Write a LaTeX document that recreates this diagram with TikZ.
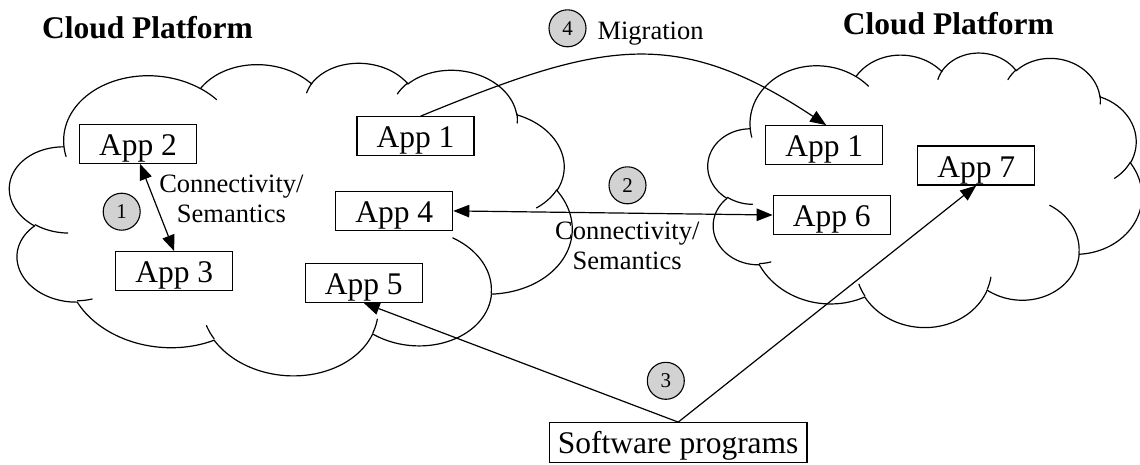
\documentclass[tikz,border=0pt]{standalone}
\usepackage{fontspec}
\setmainfont{Liberation Serif}
\usetikzlibrary{arrows.meta}

\newcommand\cldmove[2]{\xdef\cldPX{#1}\xdef\cldPY{#2}}
\newcommand\cldarc[4]{%
  \pgfmathsetmacro\cldT{atan2((#1)*sin(#3),(#2)*cos(#3))}%
  \pgfmathsetmacro\cldU{atan2((#1)*sin((#3)+(#4)),(#2)*cos((#3)+(#4)))}%
  \pgfmathsetmacro\cldD{\cldU-(\cldT)}%
  \pgfmathsetmacro\cldD{(\cldD)<0?(\cldD)+360:(\cldD)}%
  \pgfmathsetmacro\cldCX{\cldPX-(#1)*cos(\cldT)}%
  \pgfmathsetmacro\cldCY{\cldPY-(#2)*sin(\cldT)}%
  \pgfmathsetmacro\cldTE{\cldT+\cldD}%
  \draw[cloudline] plot[domain=\cldT:\cldTE,samples=40]
     ({\cldXo+(\cldCX+(#1)*cos(\x))*\cldSx},{\cldYo+(\cldCY+(#2)*sin(\x))*\cldSy});
  \pgfmathsetmacro\cldNX{\cldCX+(#1)*cos(\cldTE)}%
  \pgfmathsetmacro\cldNY{\cldCY+(#2)*sin(\cldTE)}%
  \xdef\cldPX{\cldNX}\xdef\cldPY{\cldNY}%
}
\newcommand\drawcloud[4]{%
  \def\cldXo{#1}\def\cldYo{#2}%
  \pgfmathsetmacro\cldSx{(#3)/432}\pgfmathsetmacro\cldSy{(#4)/432}%
  \cldmove{39.00}{143.70}%
  \cldarc{67.53}{91.90}{-190.4875}{123.7805}%
  \cldarc{53.33}{72.67}{-144.1024}{89.9452}%
  \cldarc{43.65}{59.45}{-145.8079}{99.7230}%
  \cldarc{48.57}{65.95}{-130.9861}{117.2417}%
  \cldarc{53.33}{72.73}{-78.7089}{109.0269}%
  \cldarc{67.75}{92.20}{-46.2673}{130.2690}%
  \cldarc{57.85}{78.67}{0.6250}{114.0333}%
  \cldarc{67.52}{92.15}{22.4516}{115.1726}%
  \cldarc{77.20}{105.43}{66.2426}{75.7110}%
  \cldarc{43.60}{59.18}{-274.9421}{146.7356}%
  \cldarc{43.45}{59.45}{-246.8285}{152.5189}%
  % creases
  \cldmove{46.93}{261.77}\cldarc{43.45}{59.45}{86.742}{26.4295}%
  \cldmove{69.28}{348.99}\cldarc{43.60}{59.18}{73.6105}{11.4475}%
  \cldmove{164.78}{390.90}\cldarc{67.52}{92.15}{137.6242}{14.0811}%
  \cldmove{288.27}{347.51}\cldarc{67.52}{92.15}{6.4533}{15.9984}%
  \cldmove{341.29}{229.54}\cldarc{57.85}{78.67}{-70.2924}{70.9174}%
  \cldmove{417.98}{153.54}\cldarc{53.33}{72.73}{30.3180}{27.7515}%
  \cldmove{383.24}{54.26}\cldarc{48.57}{65.95}{-13.7443}{14.8589}%
  \cldmove{290.78}{39.52}\cldarc{48.57}{65.95}{-149.1815}{18.1954}%
  \cldmove{221.41}{47.20}\cldarc{43.65}{59.45}{-163.4943}{17.6864}%
  \cldmove{140.00}{51.92}\cldarc{67.53}{91.90}{-66.7070}{12.3194}%
  \cldmove{41.27}{157.89}\cldarc{67.53}{91.90}{157.6544}{11.8582}%
}
\newcommand\appfont{\fontsize{31.5}{36}\selectfont}
\newcommand\lblfont{\fontsize{26.5}{30}\selectfont}
\newcommand\titlefont{\fontsize{31.5}{36}\selectfont\bfseries}
\newcommand\numfont{\fontsize{21}{24}\selectfont}

\tikzset{
  cloudline/.style={line width=1.2pt, line cap=round},
  app/.style={draw, line width=1.2pt, minimum width=117pt, inner xsep=0pt,
    inner ysep=0pt, text height=31pt, text depth=8pt, font=\appfont},
  swbox/.style={draw, line width=1.2pt, minimum width=257.7pt, inner xsep=0pt,
    inner ysep=0pt, text height=30.6pt, text depth=9.4pt, font=\appfont},
  lbl/.style={inner sep=0pt, font=\lblfont, align=center},
  title/.style={inner sep=0pt, font=\titlefont, anchor=base},
  num/.style={circle, draw, line width=1.1pt, fill=gray!35, minimum size=37pt,
    inner sep=0pt, font=\numfont},
  conn/.style={line width=1.2pt},
  arrowend/.style={-{Triangle[length=16pt,width=12.5pt]}},
  arrowboth/.style={{Triangle[length=16pt,width=12.5pt]}-{Triangle[length=16pt,width=12.5pt]}}
}

\begin{document}
\begin{tikzpicture}[x=1pt,y=-1pt]
\useasboundingbox (0,0) rectangle (1140,464);

% clouds (slightly rotated clockwise)
\begin{scope}[shift={(290.4,215.9)},rotate=-4.25]
  \drawcloud{-282}{-158.5}{564}{317}
\end{scope}
\begin{scope}[shift={(924.5,187.4)},rotate=-4.2]
  \drawcloud{-217.5}{-139}{435}{278}
\end{scope}

% titles
\node[title] (t1) at (147.5,38.3) {Cloud Platform};
\node[title] (t2) at (948.4,34.3) {Cloud Platform};

% application boxes
\node[app] (app2) at (138,143.7) {App 2};
\node[app] (app1a) at (415.5,136.3) {App 1};
\node[app] (app4) at (394.2,210.9) {App 4};
\node[app] (app3) at (174.2,271.2) {App 3};
\node[app] (app5) at (363.7,282.8) {App 5};
\node[app] (app1b) at (824.2,145.2) {App 1};
\node[app] (app7) at (976.2,165.5) {App 7};
\node[app] (app6) at (831.7,215) {App 6};
\node[swbox] (sw) at (678.2,442.7) {Software programs};

% labels
\node[lbl] (l1) at (231.4,199.3) {Connectivity/\\Semantics};
\node[lbl] (l2) at (627.2,246) {Connectivity/\\Semantics};
\node[lbl, anchor=base] (l4) at (650.5,39.3) {Migration};

% numbered circles
\node[num] (n1) at (121.7,211.7) {1};
\node[num] (n2) at (627.5,185.3) {2};
\node[num] (n3) at (665.8,380.8) {3};
\node[num] (n4) at (567.5,28.3) {4};

% connectors
\draw[conn,arrowboth] ([xshift=2pt]app2.south) -- (app3.north);
\draw[conn,arrowboth] (app4.east) -- (app6.west);
\draw[conn,arrowend] (sw.north) -- (app5.south);
\draw[conn,arrowend] (sw.north) -- (app7.south);
\draw[conn,arrowend] ([xshift=5pt]app1a.north) .. controls (601,42) and (675,25) .. ([xshift=2pt]app1b.north);
\end{tikzpicture}
\end{document}
